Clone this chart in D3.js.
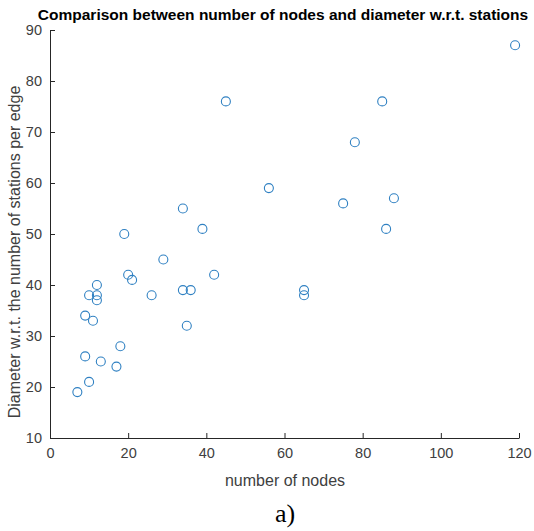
<!DOCTYPE html>
<html><head><meta charset="utf-8">
<script src="https://cdn.jsdelivr.net/npm/d3@7"></script>
<style>body{margin:0;background:#fff}</style>
</head><body>
<script>
const nodes = [7,9,9,10,10,11,12,12,12,13,17,18,19,20,21,26,29,34,34,35,36,39,42,45,56,65,65,75,78,85,86,88,119];
const diameter = [19,26,34,21,38,33,40,38,37,25,24,28,50,42,41,38,45,55,39,32,39,51,42,76,59,39,38,56,68,76,51,57,87];
const xTicks = [0,20,40,60,80,100,120];
const yTicks = [10,20,30,40,50,60,70,80,90];
const title = "Comparison between number of nodes and diameter w.r.t. stations";
const xLabel = "number of nodes";
const yLabel = "Diameter w.r.t. the number of stations per edge";
const caption = "a)";

const W=534,H=531;
const svg=d3.select("body").append("svg").attr("width",W).attr("height",H);
const x=d3.scaleLinear().domain([0,120]).range([50,519]);
const y=d3.scaleLinear().domain([10,90]).range([438,30]);
const axisColor="#262626", textColor="#404040";
const sans="Liberation Sans, Arial, sans-serif";

const gx=svg.append("g").attr("transform","translate(0,438)")
  .call(d3.axisBottom(x).tickValues(xTicks).tickSizeInner(-5).tickSizeOuter(0).tickPadding(10));
const gy=svg.append("g").attr("transform","translate(50,0)")
  .call(d3.axisLeft(y).tickValues(yTicks).tickSizeInner(-5).tickSizeOuter(0).tickPadding(8));
[gx,gy].forEach(g=>{
  g.select(".domain").attr("stroke",axisColor).attr("stroke-width",1);
  g.selectAll(".tick line").attr("stroke",axisColor);
  g.selectAll(".tick text").attr("fill",textColor).attr("font-family",sans).attr("font-size",14.5);
});

svg.append("g").selectAll("circle").data(nodes).join("circle")
  .attr("cx",(d,i)=>x(d)).attr("cy",(d,i)=>y(diameter[i])).attr("r",4.5)
  .attr("fill","none").attr("stroke","#2f80c2").attr("stroke-width",1.1);

svg.append("text").attr("x",283).attr("y",19.5).attr("text-anchor","middle")
  .attr("font-family",sans).attr("font-weight","bold").attr("font-size",15.5)
  .attr("fill","#000").text(title);
svg.append("text").attr("x",285).attr("y",486).attr("text-anchor","middle")
  .attr("font-family",sans).attr("font-size",16).attr("fill",textColor).text(xLabel);
svg.append("text").attr("transform","translate(20,252) rotate(-90)").attr("text-anchor","middle")
  .attr("font-family",sans).attr("font-size",16).attr("fill",textColor).text(yLabel);
svg.append("text").attr("x",285).attr("y",522).attr("text-anchor","middle")
  .attr("font-family","Liberation Serif, Times New Roman, serif").attr("font-size",26).attr("fill","#000").text(caption);
</script>
</body></html>
